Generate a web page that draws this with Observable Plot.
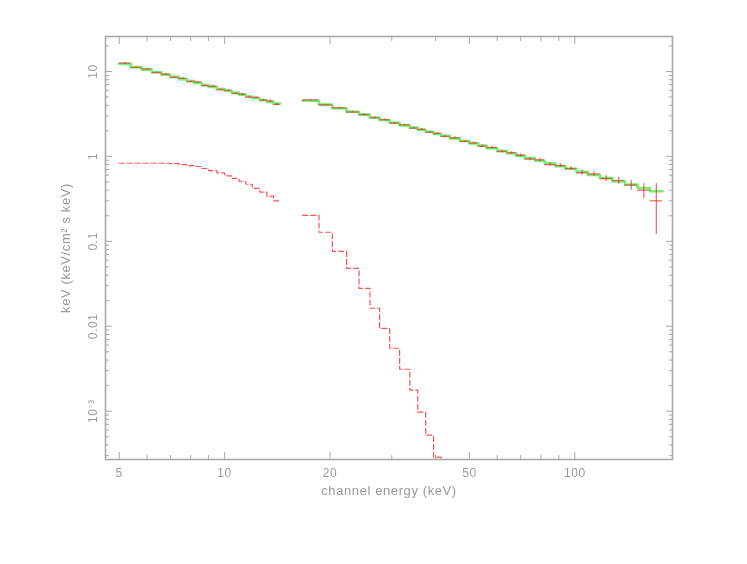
<!DOCTYPE html>
<html>
<head>
<meta charset="utf-8">
<script src="https://cdn.jsdelivr.net/npm/d3@7"></script>
<script src="https://cdn.jsdelivr.net/npm/@observablehq/plot@0.6"></script>
<style>
  html, body { margin: 0; padding: 0; background: #fff; }
  #chart svg { display: block; filter: blur(0.55px); }
  #chart svg text { letter-spacing: 0.6px; }
</style>
</head>
<body>
<div id="chart"></div>
<script>
// ---- Segment 1 (low-energy instrument) ----
const seg1Edges = [5.0, 5.4, 5.8, 6.2, 6.6, 7.0, 7.4, 7.8, 8.2, 8.6, 9.0, 9.5, 10.0, 10.5, 11.0, 11.5, 12.0, 12.6, 13.2, 13.8, 14.4];
const seg1Model = [12.3, 11.3, 10.5, 9.8, 9.16, 8.63, 8.13, 7.71, 7.31, 6.93, 6.59, 6.22, 5.89, 5.60, 5.33, 5.08, 4.84, 4.59, 4.38, 4.18];
const seg1Data  = [12.5, 11.1, 10.7, 9.7, 9.3, 8.5, 8.3, 7.6, 7.5, 6.8, 6.7, 6.1, 6.0, 5.5, 5.4, 5.0, 4.95, 4.6, 4.5, 4.1];
const seg1Err   = [0.25, 0.22, 0.2, 0.2, 0.2, 0.18, 0.18, 0.17, 0.17, 0.16, 0.16, 0.15, 0.15, 0.14, 0.14, 0.14, 0.14, 0.13, 0.13, 0.13];
const seg1Comp  = [0.83, 0.83, 0.83, 0.83, 0.83, 0.82, 0.80, 0.78, 0.76, 0.72, 0.68, 0.64, 0.59, 0.55, 0.51, 0.47, 0.42, 0.38, 0.34, 0.30];

// ---- Segment 2 (high-energy instrument) ----
const seg2Edges = [16.7, 18.6, 20.3, 22.3, 24.2, 26.0, 27.7, 29.6, 31.6, 33.8, 35.6, 37.5, 39.5, 41.5, 44, 47, 50, 53, 56, 60, 64, 68, 72, 77, 82, 88, 94, 101, 109, 118, 128, 139, 151, 164, 178];
const seg2Model = [4.52, 4.07, 3.69, 3.36, 3.09, 2.87, 2.68, 2.49, 2.32, 2.18, 2.06, 1.95, 1.84, 1.74, 1.63, 1.52, 1.42, 1.34, 1.25, 1.16, 1.09, 1.02, 0.954, 0.889, 0.828, 0.769, 0.714, 0.659, 0.605, 0.555, 0.507, 0.465, 0.425, 0.389];
const seg2Data  = [4.62, 4.05, 3.72, 3.33, 3.12, 2.84, 2.70, 2.46, 2.35, 2.15, 2.08, 1.93, 1.86, 1.72, 1.65, 1.50, 1.44, 1.32, 1.27, 1.14, 1.10, 1.03, 0.93, 0.91, 0.80, 0.78, 0.72, 0.64, 0.62, 0.55, 0.52, 0.46, 0.40, 0.30];
const seg2Err   = [0.08, 0.07, 0.07, 0.06, 0.06, 0.06, 0.06, 0.05, 0.05, 0.05, 0.05, 0.05, 0.05, 0.05, 0.05, 0.04, 0.04, 0.04, 0.04, 0.04, 0.04, 0.04, 0.04, 0.04, 0.04, 0.04, 0.04, 0.04, 0.04, 0.04, 0.05, 0.06, 0.08, 0.18];
const seg2CompEdges = [16.7, 18.6, 20.3, 22.3, 24.2, 26.0, 27.7, 29.6, 31.6, 33.8, 35.6, 37.5, 39.5, 41.5, 44];
const seg2Comp  = [0.202, 0.128, 0.0762, 0.0481, 0.0280, 0.0163, 0.00947, 0.00551, 0.00312, 0.00177, 0.000973, 0.000522, 0.000288, 0.00014];

// ---- Axes ----
const xMajor = [5, 10, 20, 50, 100];
const xMinor = [6, 7, 8, 9, 30, 40, 60, 70, 80, 90];
const xTickLabels = ["5", "10", "20", "50", "100"];
const yMajor = [0.001, 0.01, 0.1, 1, 10];
const yTickLabels = ["10\u207B\u00B3", "0.01", "0.1", "1", "10"];
const yMinor = [3e-4, 4e-4, 5e-4, 6e-4, 7e-4, 8e-4, 9e-4,
  0.002, 0.003, 0.004, 0.005, 0.006, 0.007, 0.008, 0.009,
  0.02, 0.03, 0.04, 0.05, 0.06, 0.07, 0.08, 0.09,
  0.2, 0.3, 0.4, 0.5, 0.6, 0.7, 0.8, 0.9,
  2, 3, 4, 5, 6, 7, 8, 9, 20];
const xTitle = "channel energy (keV)";
const yTitle = "keV (keV/cm\u00B2 s keV)";

// ---- build tables ----
function steps(edges, vals, seg) {
  const out = [];
  vals.forEach((v, i) => { out.push({x: edges[i], y: v, seg}); out.push({x: edges[i + 1], y: v, seg}); });
  return out;
}
function bins(edges, vals, errs) {
  return vals.map((v, i) => ({lo: edges[i], hi: edges[i + 1], mid: Math.sqrt(edges[i] * edges[i + 1]), v, y1: v - errs[i], y2: v + errs[i]}));
}
const modelSteps = [...steps(seg1Edges, seg1Model, 1), ...steps(seg2Edges, seg2Model, 2)];
const compSteps = [...steps(seg1Edges, seg1Comp, 1), ...steps(seg2CompEdges, seg2Comp, 2)];
const dataBins = [...bins(seg1Edges, seg1Data, seg1Err), ...bins(seg2Edges, seg2Data, seg2Err)];

const xFmt = d => xTickLabels[xMajor.indexOf(d)];
const yFmt = d => yTickLabels[yMajor.findIndex(m => Math.abs(m - d) / m < 1e-6)];
const empty = () => "";
const axisCol = "#a8a8a8";

const chart = Plot.plot({
  width: 747,
  height: 564,
  marginLeft: 105,
  marginRight: 75,
  marginTop: 36,
  marginBottom: 105,
  x: {type: "log", domain: [4.57, 190]},
  y: {type: "log", domain: [2.7e-4, 25.8]},
  style: {fontFamily: "Liberation Sans, sans-serif", fontSize: "12px", color: "#9a9a9a", background: "#fff"},
  marks: [
    Plot.line(compSteps, {x: "x", y: "y", z: "seg", stroke: "#ff5050", strokeWidth: 1.2, strokeDasharray: "5,3", clip: true}),
    Plot.line(modelSteps, {x: "x", y: "y", z: "seg", stroke: "#40f040", strokeWidth: 2.6, strokeOpacity: 0.75, clip: true}),
    Plot.ruleY(dataBins, {x1: "lo", x2: "hi", y: "v", stroke: "#e83030", strokeWidth: 1.3, strokeOpacity: 0.7, clip: true}),
    Plot.ruleX(dataBins, {x: "mid", y1: "y1", y2: "y2", stroke: "#e83030", strokeWidth: 1.3, strokeOpacity: 0.7, clip: true}),
    Plot.frame({stroke: axisCol, strokeWidth: 1.6}),
    Plot.axisX({ticks: xMajor, anchor: "bottom", tickSize: 0, tickPadding: 9, tickFormat: xFmt, label: null}),
    Plot.axisX({ticks: xMajor, anchor: "bottom", tickSize: -7, tickFormat: empty, label: null, stroke: axisCol}),
    Plot.axisX({ticks: xMinor, anchor: "bottom", tickSize: -4, tickFormat: empty, label: null, stroke: axisCol}),
    Plot.axisX({ticks: xMajor, anchor: "top", tickSize: -7, tickFormat: empty, label: null, stroke: axisCol}),
    Plot.axisX({ticks: xMinor, anchor: "top", tickSize: -4, tickFormat: empty, label: null, stroke: axisCol}),
    Plot.axisY({ticks: yMajor, anchor: "left", tickSize: 0, tickPadding: 9, tickRotate: -90, tickFormat: yFmt, label: null}),
    Plot.axisY({ticks: yMajor, anchor: "left", tickSize: -7, tickFormat: empty, label: null, stroke: axisCol}),
    Plot.axisY({ticks: yMinor, anchor: "left", tickSize: -4, tickFormat: empty, label: null, stroke: axisCol}),
    Plot.axisY({ticks: yMajor, anchor: "right", tickSize: -7, tickFormat: empty, label: null, stroke: axisCol}),
    Plot.axisY({ticks: yMinor, anchor: "right", tickSize: -4, tickFormat: empty, label: null, stroke: axisCol}),
    Plot.text([xTitle], {frameAnchor: "bottom", dy: 35, fill: "#9a9a9a", fontSize: 13}),
    Plot.text([yTitle], {frameAnchor: "left", dx: -40, rotate: -90, textAnchor: "middle", fill: "#9a9a9a", fontSize: 13})
  ]
});
document.getElementById("chart").appendChild(chart);
</script>
</body>
</html>
